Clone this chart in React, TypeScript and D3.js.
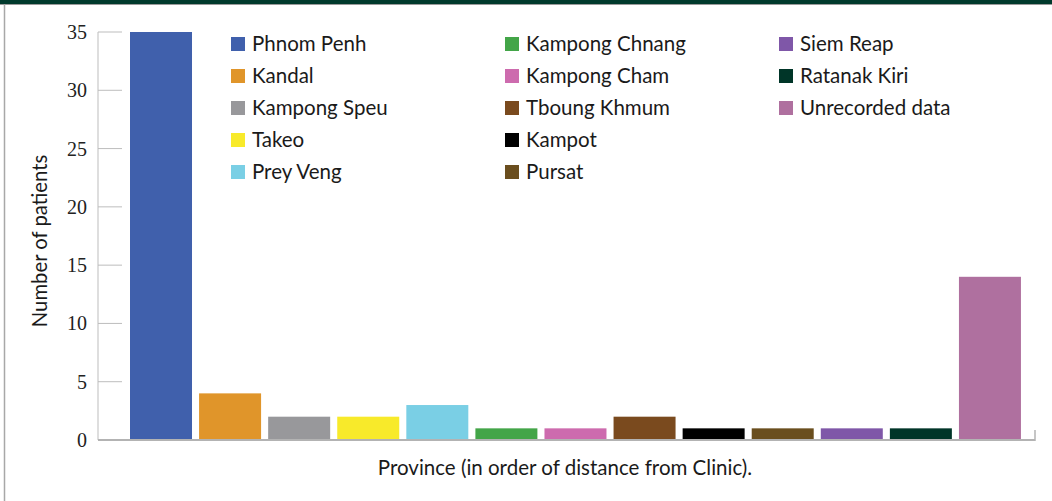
import React from "react";
import * as d3 from "d3";

const provinces = [
  "Phnom Penh", "Kandal", "Kampong Speu", "Takeo", "Prey Veng",
  "Kampong Chnang", "Kampong Cham", "Tboung Khmum", "Kampot", "Pursat",
  "Siem Reap", "Ratanak Kiri", "Unrecorded data",
];
const patients = [35, 4, 2, 2, 3, 1, 1, 2, 1, 1, 1, 1, 14];
const colors = [
  "#4060AC", "#E0952A", "#98989B", "#F8EA2A", "#7ACFE5",
  "#43A548", "#CD6BAE", "#7A4A1E", "#000000", "#6A4E1E",
  "#7F57A8", "#003528", "#AF709F",
];
const yTicks = [0, 5, 10, 15, 20, 25, 30, 35];

const W = 1052, H = 501;
const axisX = 98, axisEnd = 1035;
const y0 = 440, yTop = 32;

export default function App() {
  const x = d3.scaleBand<string>().domain(provinces).range([126.55, 1024.4]).paddingInner(0.1025).paddingOuter(0.05);
  const y = d3.scaleLinear().domain([0, 35]).range([y0, yTop]);
  const sansFont = "Lato, 'Open Sans', sans-serif";
  const legendCols = [231, 505, 779];
  return (
    <svg width={W} height={H} style={{ position: "absolute", left: 0, top: 0, background: "#fff" }}>
      <rect x={0} y={0} width={W} height={4} fill="#003A2C" />
      <line x1={0} x2={W} y1={4.5} y2={4.5} stroke="#9A9A9A" strokeWidth={1} />
      <line x1={4.5} x2={4.5} y1={4} y2={H} stroke="#A8A8A8" strokeWidth={1.5} />
      {/* y axis */}
      <line x1={axisX} x2={axisX} y1={y(35)} y2={y0} stroke="#BDBDBD" strokeWidth={1} />
      {yTicks.map((t) => (
        <g key={t}>
          <line x1={axisX} x2={122} y1={y(t)} y2={y(t)} stroke="#BDBDBD" strokeWidth={1} />
          <text x={87} y={y(t)} dy="0.35em" textAnchor="end" fontFamily="'Liberation Serif', serif" fontSize={20} fill="#222">{t}</text>
        </g>
      ))}
      {/* bars */}
      {provinces.map((p, i) => (
        <rect key={p} x={x(p)} y={y(patients[i])} width={x.bandwidth()} height={y0 - y(patients[i])} fill={colors[i]} />
      ))}
      {/* baseline */}
      <line x1={axisX} x2={axisEnd} y1={y0} y2={y0} stroke="#B3B3B3" strokeWidth={2} />
      <line x1={axisEnd} x2={axisEnd} y1={430} y2={y0 + 1} stroke="#B3B3B3" strokeWidth={1.5} />
      {/* legend */}
      {provinces.map((p, i) => {
        const col = Math.floor(i / 5);
        const row = i % 5;
        const lx = legendCols[col];
        const ly = 44 + row * 32;
        return (
          <g key={p}>
            <rect x={lx} y={ly - 7} width={14} height={14} fill={colors[i]} />
            <text x={lx + 21} y={ly} dy="0.35em" fontFamily={sansFont} fontSize={20.5} fill="#1a1a1a">{p}</text>
          </g>
        );
      })}
      {/* axis titles */}
      <text transform={`translate(40,241) rotate(-90)`} textAnchor="middle" dy="0.35em" fontFamily={sansFont} fontSize={20.3} fill="#1a1a1a">Number of patients</text>
      <text x={565} y={468} textAnchor="middle" dy="0.35em" fontFamily={sansFont} fontSize={20.5} fill="#1a1a1a">Province (in order of distance from Clinic).</text>
    </svg>
  );
}
